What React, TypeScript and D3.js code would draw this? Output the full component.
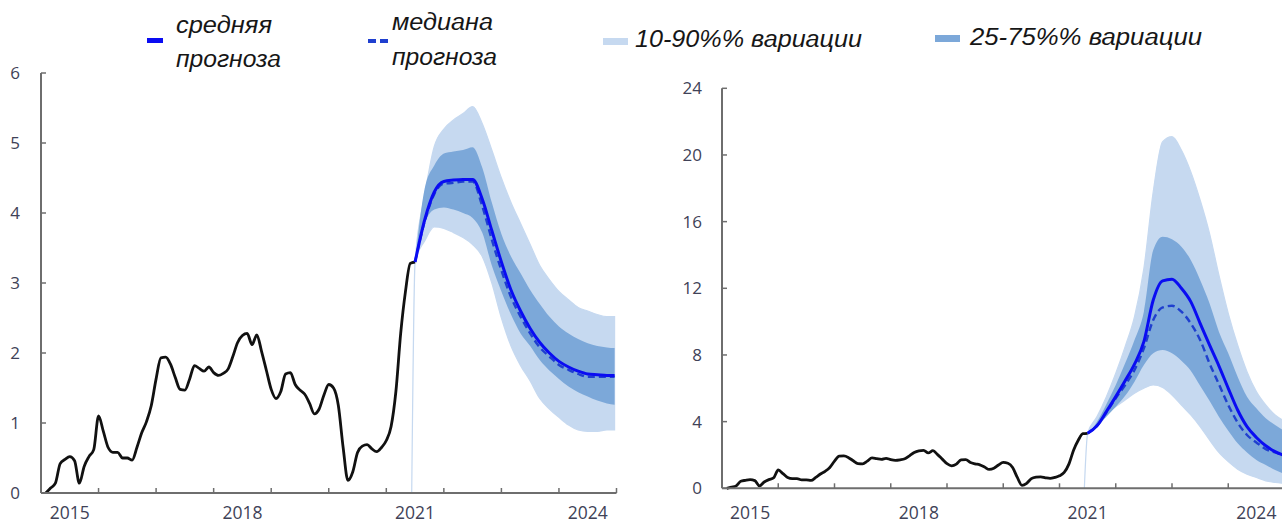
import React from "react";
import * as d3 from "d3";

// ---- data -------------------------------------------------------------
// Months are counted from January 2015 (month 0).
const HISTORY_FIRST_MONTH = 1;
const history = [
  0.0, 0.07, 0.14, 0.42, 0.48, 0.52, 0.46, 0.14, 0.38, 0.52, 0.62, 1.1,
  0.88, 0.65, 0.58, 0.58, 0.5, 0.5, 0.47, 0.65, 0.86, 1.02, 1.25, 1.63,
  1.93, 1.94, 1.84, 1.65, 1.48, 1.47, 1.63, 1.82, 1.78, 1.74, 1.8, 1.72,
  1.68, 1.71, 1.77, 1.95, 2.15, 2.25, 2.28, 2.12, 2.26, 2.02, 1.75, 1.48,
  1.35, 1.45, 1.7, 1.72, 1.55, 1.47, 1.41, 1.28, 1.13, 1.2, 1.4, 1.55,
  1.5, 1.25, 0.65, 0.18, 0.3, 0.58, 0.67, 0.69, 0.63, 0.59, 0.65, 0.75,
  0.95, 1.45, 2.28, 2.88, 3.28, 3.3,
];

const forecastMonths = [
  78, 80, 82, 84, 86, 88, 90, 92, 94, 96, 98, 100, 102, 104, 106, 108, 110,
  112, 114, 116, 118, 119.6,
];
// month at which the outer band rises from zero
const bandEdgeMonth = 77.3;

// left panel
const leftMean = [
  3.3, 3.9, 4.3, 4.45, 4.47, 4.48, 4.48, 4.2, 3.75, 3.3, 2.9, 2.6, 2.35,
  2.15, 2.0, 1.88, 1.8, 1.74, 1.7, 1.69, 1.68, 1.68,
];
const leftMedian = [
  3.3, 3.88, 4.27, 4.42, 4.43, 4.45, 4.45, 4.1, 3.62, 3.18, 2.8, 2.52, 2.28,
  2.08, 1.95, 1.83, 1.76, 1.7, 1.66, 1.66, 1.66, 1.66,
];
const left25 = [
  3.3, 3.85, 4.05, 4.08, 4.05, 4.0, 3.93, 3.72, 3.25, 2.88, 2.55, 2.28, 2.1,
  1.9, 1.75, 1.63, 1.52, 1.44, 1.38, 1.32, 1.28, 1.26,
];
const left75 = [
  3.3, 4.35, 4.68, 4.85, 4.88, 4.9, 4.94, 4.65, 4.15, 3.7, 3.38, 3.14, 2.9,
  2.7, 2.52, 2.38, 2.28, 2.2, 2.14, 2.1, 2.08, 2.07,
];
const left10 = [
  3.3, 3.6, 3.8, 3.78, 3.72, 3.65, 3.55, 3.38, 3.0, 2.5, 2.1, 1.82, 1.6,
  1.35, 1.2, 1.08, 0.97, 0.9, 0.88, 0.88, 0.9, 0.9,
];
const left90 = [
  3.3, 4.25, 4.95, 5.2, 5.33, 5.42, 5.52, 5.28, 4.9, 4.5, 4.15, 3.85, 3.55,
  3.25, 3.05, 2.88, 2.76, 2.65, 2.6, 2.55, 2.52, 2.52,
];

// right panel
const rightMean = [
  3.3, 3.75, 4.6, 5.5, 6.45, 7.45, 8.8, 11.3, 12.45, 12.55, 12.0, 11.2, 9.9,
  8.6, 7.35, 6.0, 4.7, 3.7, 3.05, 2.55, 2.2, 2.0,
];
const rightMedian = [
  3.3, 3.75, 4.55, 5.4, 6.2, 7.1, 8.4, 10.1, 10.85, 10.95, 10.6, 9.9, 8.9,
  7.5, 6.25, 5.0, 3.95, 3.2, 2.75, 2.35, 2.15, 2.0,
];
const right25 = [
  3.3, 3.7, 4.3, 4.9, 5.55, 6.4, 7.4, 8.1, 8.3, 8.1, 7.65, 7.05, 6.15, 5.25,
  4.3, 3.45, 2.7, 2.15, 1.7, 1.4, 1.1, 0.9,
];
const right75 = [
  3.3, 4.0, 5.05, 6.2, 7.5, 8.9, 10.6, 14.3, 15.1, 14.95, 14.5, 13.7, 12.5,
  11.1, 9.4, 8.1, 6.7, 5.5, 4.8, 4.2, 3.8, 3.5,
];
const right10 = [
  3.3, 3.95, 4.45, 4.9, 5.3, 5.7, 6.0, 6.2, 6.05, 5.6, 5.0, 4.4, 3.7, 2.9,
  2.15, 1.6, 1.15, 0.85, 0.65, 0.45, 0.35, 0.3,
];
const right90 = [
  3.3, 4.3, 5.5, 6.9, 8.5, 10.3, 13.2, 17.8, 20.8, 21.1, 20.3, 19.0, 17.3,
  15.3, 12.8, 10.5, 8.6, 7.0, 5.8, 5.0, 4.4, 4.1,
];

const leftYTicks = [0, 1, 2, 3, 4, 5, 6];
const rightYTicks = [0, 4, 8, 12, 16, 20, 24];
const yearLabels = [2015, 2018, 2021, 2024];
const yearTicks = [2016, 2017, 2018, 2019, 2020, 2021, 2022, 2023, 2024, 2025];

const legendMean = ["средняя", "прогноза"];
const legendMedian = ["медиана", "прогноза"];
const legendOuter = "10-90%% вариации";
const legendInner = "25-75%% вариации";

// ---- styling ----------------------------------------------------------
const W = 1282;
const H = 524;
const COLOR_LIGHT = "#c6d9f0";
const COLOR_DARK = "#7ca8d9";
const COLOR_MEAN = "#0a0cf2";
const COLOR_MEDIAN = "#1f3fcf";
const COLOR_AXIS = "#6e6e6e";
const COLOR_TICKTEXT = "#404257";
const TICK_FONT = "'Open Sans', 'DejaVu Sans', sans-serif";
const LEGEND_FONT = "'Liberation Sans', Arial, sans-serif";

const monthToYear = (m: number) => 2015 + m / 12;

type Pt = { t: number; v: number };
type BandPt = { t: number; lo: number; hi: number };

const historyPts: Pt[] = history.map((v, i) => ({
  t: monthToYear(HISTORY_FIRST_MONTH + i),
  v,
}));

const toLine = (vals: number[]): Pt[] =>
  vals.map((v, i) => ({ t: monthToYear(forecastMonths[i]), v }));

const toBand = (lo: number[], hi: number[], fromZero: boolean): BandPt[] => {
  const pts = lo.map((l, i) => ({
    t: monthToYear(forecastMonths[i]),
    lo: l,
    hi: hi[i],
  }));
  return fromZero ? [{ t: monthToYear(bandEdgeMonth), lo: 0, hi: 0 }, ...pts] : pts;
};

type PanelProps = {
  x0: number;
  x1: number;
  yBottom: number;
  yTop: number;
  yMax: number;
  yTicks: number[];
  labelGap: number;
  mean: number[];
  median: number[];
  p10: number[];
  p90: number[];
  p25: number[];
  p75: number[];
};

function Panel(p: PanelProps) {
  const x = d3.scaleLinear().domain([2015, 2025]).range([p.x0, p.x1]);
  const y = d3.scaleLinear().domain([0, p.yMax]).range([p.yBottom, p.yTop]);

  const line = d3
    .line<Pt>()
    .x((d) => x(d.t))
    .y((d) => y(d.v))
    .curve(d3.curveMonotoneX);
  const area = d3
    .area<BandPt>()
    .x((d) => x(d.t))
    .y0((d) => y(d.lo))
    .y1((d) => y(d.hi))
    .curve(d3.curveMonotoneX);

  const outer = toBand(p.p10, p.p90, true);
  const inner = toBand(p.p25, p.p75, false);
  const axisEnd = Math.min(p.x1, W);

  return (
    <g>
      <path d={area(outer) || ""} fill={COLOR_LIGHT} stroke={COLOR_LIGHT} strokeWidth={1.2} />
      <path d={area(inner) || ""} fill={COLOR_DARK} />
      <path
        d={line(historyPts) || ""}
        fill="none"
        stroke="#111"
        strokeWidth={2.8}
        strokeLinejoin="round"
      />
      <path
        d={line(toLine(p.median)) || ""}
        fill="none"
        stroke={COLOR_MEDIAN}
        strokeWidth={2.4}
        strokeDasharray="7 4"
      />
      <path
        d={line(toLine(p.mean)) || ""}
        fill="none"
        stroke={COLOR_MEAN}
        strokeWidth={3}
        strokeLinejoin="round"
      />

      {/* axes */}
      <line x1={p.x0} x2={axisEnd} y1={p.yBottom} y2={p.yBottom} stroke={COLOR_AXIS} strokeWidth={2} />
      <line x1={p.x0} x2={p.x0} y1={p.yTop} y2={p.yBottom} stroke={COLOR_AXIS} strokeWidth={2} />
      {p.yTicks.map((t) => (
        <g key={"y" + t}>
          <line x1={p.x0} x2={p.x0 + 5} y1={y(t)} y2={y(t)} stroke={COLOR_AXIS} strokeWidth={1.5} />
          <text
            x={p.x0 - p.labelGap}
            y={y(t)}
            dy="0.35em"
            textAnchor="end"
            fontFamily={TICK_FONT}
            fontSize={17}
            fill={COLOR_TICKTEXT}
          >
            {t}
          </text>
        </g>
      ))}
      {yearTicks.map((yr) => (
        <line
          key={"x" + yr}
          x1={x(yr)}
          x2={x(yr)}
          y1={p.yBottom}
          y2={p.yBottom - 5}
          stroke={COLOR_AXIS}
          strokeWidth={1.5}
        />
      ))}
      {yearLabels.map((yr) => (
        <text
          key={"l" + yr}
          x={x(yr + 0.5)}
          y={519}
          textAnchor="middle"
          fontFamily={TICK_FONT}
          fontSize={17.5}
          fill={COLOR_TICKTEXT}
        >
          {yr}
        </text>
      ))}
    </g>
  );
}

function LegendText(props: { x: number; y: number; len: number; children: string }) {
  return (
    <text
      x={props.x}
      y={props.y}
      fontFamily={LEGEND_FONT}
      fontStyle="italic"
      fontSize={23}
      fill="#161616"
      textLength={props.len}
      lengthAdjust="spacingAndGlyphs"
    >
      {props.children}
    </text>
  );
}

export default function App() {
  return (
    <svg
      width={W}
      height={H}
      viewBox={`0 0 ${W} ${H}`}
      style={{ position: "absolute", left: 0, top: 0, background: "#fff" }}
    >
      <rect width={W} height={H} fill="#fff" />

      <Panel
        x0={41}
        x1={616.5}
        yBottom={493}
        yTop={73}
        yMax={6}
        yTicks={leftYTicks}
        labelGap={21}
        mean={leftMean}
        median={leftMedian}
        p10={left10}
        p90={left90}
        p25={left25}
        p75={left75}
      />
      <Panel
        x0={722}
        x1={1284.5}
        yBottom={488.3}
        yTop={88.3}
        yMax={24}
        yTicks={rightYTicks}
        labelGap={20}
        mean={rightMean}
        median={rightMedian}
        p10={right10}
        p90={right90}
        p25={right25}
        p75={right75}
      />

      {/* legend */}
      <rect x={147} y={38} width={16} height={5} fill={COLOR_MEAN} />
      <LegendText x={176} y={33} len={96}>{legendMean[0]}</LegendText>
      <LegendText x={176} y={67} len={105}>{legendMean[1]}</LegendText>

      <rect x={368} y={39} width={8} height={4} fill={COLOR_MEDIAN} />
      <rect x={380} y={39} width={8} height={4} fill={COLOR_MEDIAN} />
      <LegendText x={392} y={30} len={101}>{legendMedian[0]}</LegendText>
      <LegendText x={392} y={65} len={105}>{legendMedian[1]}</LegendText>

      <rect x={603} y={38} width={25} height={7} fill={COLOR_LIGHT} />
      <LegendText x={635} y={47} len={227}>{legendOuter}</LegendText>

      <rect x={935} y={35} width={25} height={7} fill={COLOR_DARK} />
      <LegendText x={970} y={45} len={232}>{legendInner}</LegendText>
    </svg>
  );
}
